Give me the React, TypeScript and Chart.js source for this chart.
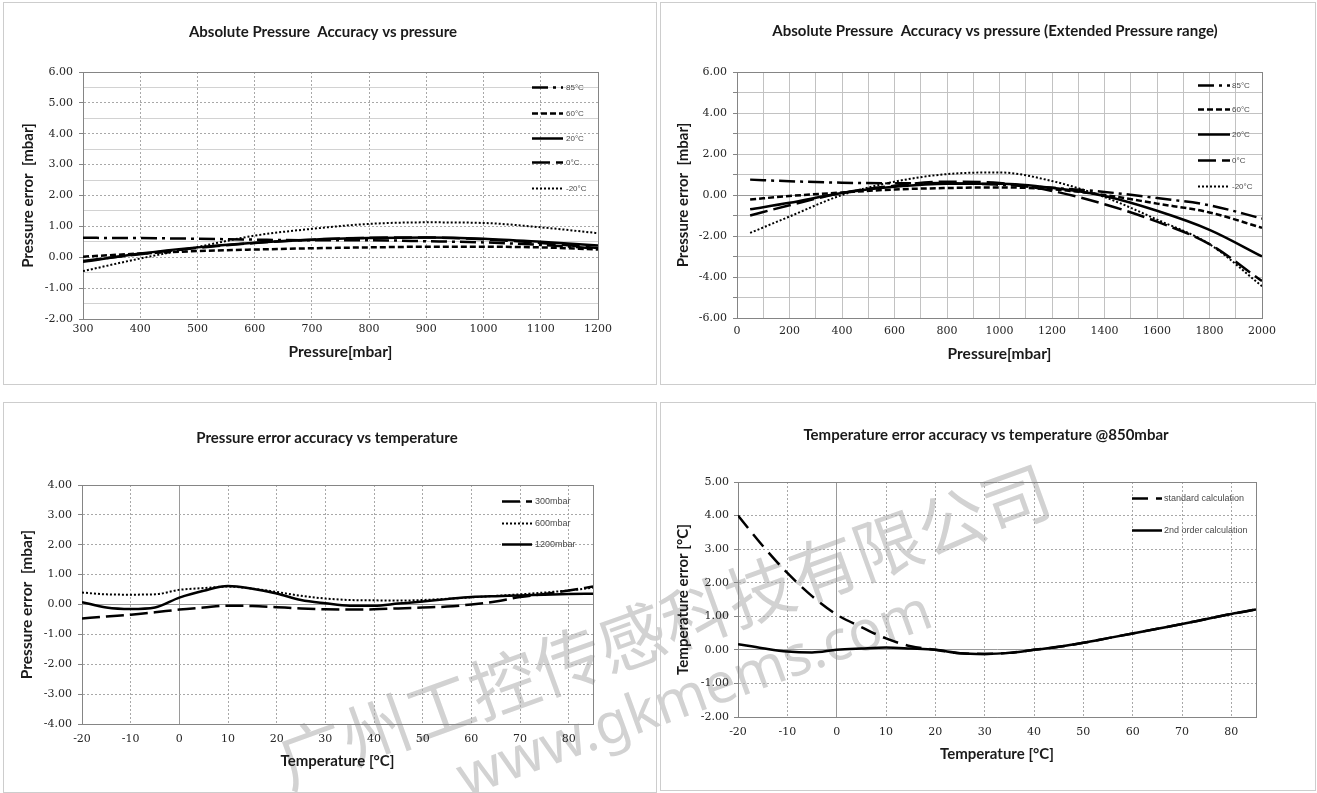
import React, { useEffect, useRef } from 'react';
import { Chart, registerables } from 'chart.js';

Chart.register(...registerables);

// ---------- Panel 1: Absolute Pressure Accuracy vs pressure ----------
const p1Pressure = [300, 400, 500, 600, 700, 800, 900, 1000, 1100, 1200];
const p1T85 = [0.63, 0.62, 0.6, 0.57, 0.55, 0.55, 0.52, 0.48, 0.4, 0.28];
const p1T60 = [0.02, 0.12, 0.2, 0.25, 0.29, 0.32, 0.34, 0.34, 0.32, 0.25];
const p1T20 = [-0.15, 0.12, 0.32, 0.47, 0.57, 0.62, 0.64, 0.6, 0.5, 0.38];
const p1T0 = [-0.12, 0.1, 0.3, 0.46, 0.57, 0.63, 0.64, 0.58, 0.46, 0.3];
const p1Tm20 = [-0.45, -0.04, 0.33, 0.7, 0.92, 1.08, 1.13, 1.11, 0.97, 0.78];
const p1XTicks = [300, 400, 500, 600, 700, 800, 900, 1000, 1100, 1200];
const p1YTicks = [-2, -1.5, -1, -0.5, 0, 0.5, 1, 1.5, 2, 2.5, 3, 3.5, 4, 4.5, 5, 5.5, 6];
const p1YLabels = [-2, -1, 0, 1, 2, 3, 4, 5, 6];

// ---------- Panel 2: Extended pressure range ----------
const p2Pressure = [50, 200, 400, 600, 800, 1000, 1200, 1400, 1600, 1800, 2000];
const p2T85 = [0.75, 0.67, 0.6, 0.57, 0.58, 0.5, 0.35, 0.15, -0.15, -0.5, -1.15];
const p2T60 = [-0.22, -0.05, 0.12, 0.27, 0.34, 0.37, 0.28, 0.0, -0.42, -0.85, -1.6];
const p2T20 = [-0.7, -0.38, 0.1, 0.4, 0.55, 0.55, 0.35, -0.05, -0.77, -1.7, -3.0];
const p2T0 = [-1.0, -0.5, 0.1, 0.45, 0.65, 0.58, 0.2, -0.45, -1.3, -2.4, -4.2];
const p2Tm20 = [-1.85, -1.05, 0.0, 0.65, 1.02, 1.1, 0.68, -0.1, -1.2, -2.4, -4.45];
const p2XTicks = [0, 100, 200, 300, 400, 500, 600, 700, 800, 900, 1000, 1100, 1200, 1300, 1400, 1500, 1600, 1700, 1800, 1900, 2000];
const p2XLabels = [0, 200, 400, 600, 800, 1000, 1200, 1400, 1600, 1800, 2000];
const p2YTicks = [-6, -5, -4, -3, -2, -1, 0, 1, 2, 3, 4, 5, 6];
const p2YLabels = [-6, -4, -2, 0, 2, 4, 6];

const tempSeriesLabels = ['85°C', '60°C', '20°C', '0°C', '-20°C'];

// ---------- Panel 3: Pressure error accuracy vs temperature ----------
const p3Temp = [-20, -15, -10, -5, 0, 5, 10, 15, 20, 25, 30, 35, 40, 45, 50, 55, 60, 65, 70, 75, 80, 85];
const p3P300 = [-0.47, -0.4, -0.34, -0.26, -0.17, -0.1, -0.04, -0.05, -0.09, -0.13, -0.16, -0.17, -0.16, -0.13, -0.1, -0.07, 0.0, 0.1, 0.25, 0.35, 0.47, 0.6];
const p3P600 = [0.4, 0.34, 0.33, 0.34, 0.49, 0.55, 0.6, 0.53, 0.42, 0.29, 0.2, 0.15, 0.14, 0.13, 0.15, 0.19, 0.24, 0.29, 0.34, 0.4, 0.47, 0.56];
const p3P1200 = [0.08, -0.1, -0.15, -0.1, 0.23, 0.46, 0.62, 0.53, 0.37, 0.15, 0.04, -0.04, -0.04, 0.03, 0.1, 0.18, 0.25, 0.28, 0.3, 0.33, 0.35, 0.36];
const p3SeriesLabels = ['300mbar', '600mbar', '1200mbar'];
const tempXTicks = [-20, -10, 0, 10, 20, 30, 40, 50, 60, 70, 80, 85];
const tempXLabels = [-20, -10, 0, 10, 20, 30, 40, 50, 60, 70, 80];
const p3YTicks = [-4, -3, -2, -1, 0, 1, 2, 3, 4];

// ---------- Panel 4: Temperature error accuracy vs temperature @850mbar ----------
const p4Temp = [-20, -15, -10, -5, 0, 5, 10, 15, 20, 25, 30, 35, 40, 45, 50, 55, 60, 65, 70, 75, 80, 85];
const p4Standard = [4.0, 3.1, 2.29, 1.6, 1.05, 0.68, 0.34, 0.11, 0.0, -0.1, -0.12, -0.09, 0.0, 0.09, 0.21, 0.35, 0.49, 0.63, 0.77, 0.92, 1.07, 1.2];
const p4SecondOrder = [0.17, 0.05, -0.05, -0.08, 0.0, 0.04, 0.07, 0.04, 0.0, -0.1, -0.12, -0.09, 0.0, 0.09, 0.21, 0.35, 0.49, 0.63, 0.77, 0.92, 1.07, 1.2];
const p4SeriesLabels = ['standard calculation', '2nd order calculation'];
const p4YTicks = [-2, -1, 0, 1, 2, 3, 4, 5];

const TITLES = [
  'Absolute Pressure  Accuracy vs pressure',
  'Absolute Pressure  Accuracy vs pressure (Extended Pressure range)',
  'Pressure error accuracy vs temperature',
  'Temperature error accuracy vs temperature @850mbar',
];

// ---------- styles ----------
const DASH = {
  dashDot: [16, 5, 3, 5],
  shortDash: [6, 3],
  solid: [] as number[],
  longDash: [18, 6],
  dotted: [2, 2],
  medDash: [16, 8],
};
const FRAME = '#858585';
const DOTGRID = '#a8a8a8';
const MINORGRID = '#d2d2d2';
const SOLIDGRID = '#c2c2c2';
const ZEROGRID = '#9a9a9a';

const TICK_FONT = { family: '"DejaVu Serif", serif', size: 11 };

function series(label: string, xs: number[], ys: number[], dash: number[], width: number) {
  return {
    label,
    data: xs.map((x, i) => ({ x, y: ys[i] })),
    borderColor: '#000',
    backgroundColor: '#000',
    borderWidth: width,
    borderDash: dash,
    pointRadius: 0,
    fill: false,
    cubicInterpolationMode: 'monotone' as const,
  };
}

type GridKind = 'frame' | 'major' | 'minor' | 'zero' | 'solid';
const kindColor: Record<GridKind, string> = { frame: FRAME, major: DOTGRID, minor: MINORGRID, zero: ZEROGRID, solid: SOLIDGRID };
const kindDash: Record<GridKind, number[]> = { frame: [], major: [2, 2], minor: [], zero: [], solid: [] };

const titlePlugin = {
  id: 'panelTitle',
  afterDraw(chart: any, _args: any, opts: any) {
    const ctx = chart.ctx;
    ctx.save();
    ctx.font = opts.font;
    ctx.fillStyle = '#1a1a1a';
    ctx.textAlign = 'center';
    ctx.textBaseline = 'middle';
    ctx.fillText(opts.text, opts.x, opts.y);
    ctx.restore();
  },
};

const innerLegendPlugin = {
  id: 'innerLegend',
  afterDatasetsDraw(chart: any, _args: any, opts: any) {
    const { ctx, chartArea } = chart;
    chart.data.datasets.forEach((ds: any, i: number) => {
      const y = Math.round(chartArea.top + opts.rows[i]) + 0.5;
      ctx.save();
      ctx.strokeStyle = ds.borderColor;
      ctx.lineWidth = ds.borderWidth;
      ctx.setLineDash(ds.borderDash || []);
      ctx.beginPath();
      ctx.moveTo(chartArea.right + opts.x0, y);
      ctx.lineTo(chartArea.right + opts.x1, y);
      ctx.stroke();
      ctx.setLineDash([]);
      ctx.font = opts.font;
      ctx.fillStyle = '#4a4a4a';
      ctx.textAlign = 'left';
      ctx.textBaseline = 'middle';
      ctx.fillText(ds.label, chartArea.right + opts.tx, y);
      ctx.restore();
    });
  },
};

type Spec = {
  left: number; top: number; w: number; h: number;
  padTop: number; padRight: number; yWidth: number; xHeight: number;
  xMin: number; xMax: number; xTicks: number[]; xLabels: number[]; xKind: (v: number) => GridKind;
  yMin: number; yMax: number; yTicks: number[]; yLabels: number[]; yKind: (v: number) => GridKind;
  yTickPad: number; xTickPad: number; xTitlePad: number; yTitlePad: number;
  xTitle: string; yTitle: string; xTitleSize: number; yTitleSize: number;
  title: string; titleX: number; titleY: number;
  datasets: any[];
  legend: { rows: number[]; x0: number; x1: number; tx: number; font: string };
};

function buildConfig(s: Spec): any {
  const gridFor = (kindFn: (v: number) => GridKind, ticksMark: boolean) => ({
    grid: {
      display: true,
      drawOnChartArea: true,
      drawTicks: ticksMark,
      tickLength: 4,
      lineWidth: 1,
      color: (c: any) => (c.tick ? kindColor[kindFn(c.tick.value)] : FRAME),
      tickColor: (c: any) => (c.tick && kindFn(c.tick.value) === 'minor' ? 'rgba(0,0,0,0)' : FRAME),
    },
    border: {
      display: true,
      color: FRAME,
      width: 1,
      dash: (c: any) => (c.tick ? kindDash[kindFn(c.tick.value)] : []),
    },
  });
  return {
    type: 'line',
    data: { datasets: s.datasets },
    plugins: [titlePlugin, innerLegendPlugin],
    options: {
      responsive: false,
      maintainAspectRatio: false,
      animation: false,
      devicePixelRatio: 1,
      layout: { padding: { top: s.padTop, right: s.padRight, left: 0, bottom: 0 } },
      plugins: {
        legend: { display: false },
        tooltip: { enabled: false },
        title: { display: false },
        panelTitle: { text: s.title, x: s.titleX, y: s.titleY, font: 'bold 15px Lato, sans-serif' },
        innerLegend: s.legend,
      },
      scales: {
        x: {
          type: 'linear',
          position: 'bottom',
          min: s.xMin,
          max: s.xMax,
          afterBuildTicks: (axis: any) => { axis.ticks = s.xTicks.map((v) => ({ value: v })); },
          afterFit: (axis: any) => { axis.height = s.xHeight; },
          ticks: {
            autoSkip: false,
            maxRotation: 0,
            minRotation: 0,
            padding: s.xTickPad,
            color: '#262626',
            font: TICK_FONT,
            callback: (v: number) => (s.xLabels.includes(v) ? String(v) : ''),
          },
          title: {
            display: true,
            text: s.xTitle,
            color: '#1a1a1a',
            font: { family: 'Lato, sans-serif', weight: 'bold', size: s.xTitleSize },
            padding: { top: 0, bottom: s.xTitlePad },
          },
          ...gridFor(s.xKind, false),
        },
        y: {
          type: 'linear',
          position: 'left',
          min: s.yMin,
          max: s.yMax,
          afterBuildTicks: (axis: any) => { axis.ticks = s.yTicks.map((v) => ({ value: v })); },
          afterFit: (axis: any) => { axis.width = s.yWidth; },
          ticks: {
            autoSkip: false,
            padding: s.yTickPad,
            color: '#262626',
            font: TICK_FONT,
            callback: (v: number) => (s.yLabels.includes(v) ? v.toFixed(2) : ''),
          },
          title: {
            display: true,
            text: s.yTitle,
            color: '#1a1a1a',
            font: { family: 'Lato, sans-serif', weight: 'bold', size: s.yTitleSize },
            padding: { top: s.yTitlePad, bottom: 0 },
          },
          ...gridFor(s.yKind, true),
        },
      },
    },
  };
}

const tempDatasets = (xs: number[], a: number[], b: number[], c: number[], d: number[], e: number[]) => [
  series(tempSeriesLabels[0], xs, a, DASH.dashDot, 2.5),
  series(tempSeriesLabels[1], xs, b, DASH.shortDash, 2.5),
  series(tempSeriesLabels[2], xs, c, DASH.solid, 2.5),
  series(tempSeriesLabels[3], xs, d, DASH.longDash, 2.5),
  series(tempSeriesLabels[4], xs, e, DASH.dotted, 2),
];

const specs: Spec[] = [
  {
    left: 3, top: 2, w: 654, h: 383,
    padTop: 69, padRight: 58, yWidth: 79, xHeight: 65,
    xMin: 300, xMax: 1200, xTicks: p1XTicks, xLabels: p1XTicks,
    xKind: (v) => (v === 1200 ? 'frame' : 'major'),
    yMin: -2, yMax: 6, yTicks: p1YTicks, yLabels: p1YLabels,
    yKind: (v) => (v === 6 || v === -2 ? 'frame' : Number.isInteger(v) ? 'major' : 'minor'),
    yTickPad: 6, xTickPad: 4, xTitlePad: 22.7, yTitlePad: 15,
    xTitle: 'Pressure[mbar]', yTitle: 'Pressure error  [mbar]', xTitleSize: 15.5, yTitleSize: 15,
    title: TITLES[0], titleX: 319, titleY: 29,
    datasets: tempDatasets(p1Pressure, p1T85, p1T60, p1T20, p1T0, p1Tm20),
    legend: { rows: [15, 41, 66, 90, 116], x0: -66, x1: -35, tx: -32, font: '8px "Liberation Sans", sans-serif' },
  },
  {
    left: 660, top: 2, w: 656, h: 383,
    padTop: 69, padRight: 53, yWidth: 76, xHeight: 66,
    xMin: 0, xMax: 2000, xTicks: p2XTicks, xLabels: p2XLabels,
    xKind: (v) => (v === 2000 ? 'frame' : 'solid'),
    yMin: -6, yMax: 6, yTicks: p2YTicks, yLabels: p2YLabels,
    yKind: (v) => (v === 6 || v === -6 ? 'frame' : v === 0 ? 'zero' : 'solid'),
    yTickPad: 6, xTickPad: 7, xTitlePad: 21.2, yTitlePad: 13,
    xTitle: 'Pressure[mbar]', yTitle: 'Pressure error  [mbar]', xTitleSize: 15.5, yTitleSize: 15,
    title: TITLES[1], titleX: 334, titleY: 28,
    datasets: tempDatasets(p2Pressure, p2T85, p2T60, p2T20, p2T0, p2Tm20),
    legend: { rows: [13, 37, 62, 88, 114], x0: -64, x1: -32, tx: -30, font: '8px "Liberation Sans", sans-serif' },
  },
  {
    left: 3, top: 402, w: 654, h: 391,
    padTop: 82, padRight: 63, yWidth: 78, xHeight: 68,
    xMin: -20, xMax: 85, xTicks: tempXTicks, xLabels: tempXLabels,
    xKind: (v) => (v === 85 ? 'frame' : v === 0 ? 'zero' : 'major'),
    yMin: -4, yMax: 4, yTicks: p3YTicks, yLabels: p3YTicks,
    yKind: (v) => (v === 4 || v === -4 ? 'frame' : v === 0 ? 'zero' : 'major'),
    yTickPad: 6, xTickPad: 9, xTitlePad: 22, yTitlePad: 13.7,
    xTitle: 'Temperature [°C]', yTitle: 'Pressure error  [mbar]', xTitleSize: 15, yTitleSize: 15.5,
    title: TITLES[2], titleX: 323, titleY: 35,
    datasets: [
      series(p3SeriesLabels[0], p3Temp, p3P300, DASH.longDash, 2.5),
      series(p3SeriesLabels[1], p3Temp, p3P600, DASH.dotted, 2),
      series(p3SeriesLabels[2], p3Temp, p3P1200, DASH.solid, 2.5),
    ],
    legend: { rows: [16, 38, 59], x0: -91, x1: -61, tx: -58, font: '9px "Liberation Sans", sans-serif' },
  },
  {
    left: 660, top: 402, w: 656, h: 389,
    padTop: 79, padRight: 59, yWidth: 77, xHeight: 73,
    xMin: -20, xMax: 85, xTicks: tempXTicks, xLabels: tempXLabels,
    xKind: (v) => (v === 85 ? 'frame' : v === 0 ? 'zero' : 'major'),
    yMin: -2, yMax: 5, yTicks: p4YTicks, yLabels: p4YTicks,
    yKind: (v) => (v === 5 || v === -2 ? 'frame' : v === 0 ? 'zero' : 'major'),
    yTickPad: 5, xTickPad: 9, xTitlePad: 27, yTitlePad: 13,
    xTitle: 'Temperature [°C]', yTitle: 'Temperature error [°C]', xTitleSize: 15, yTitleSize: 15,
    title: TITLES[3], titleX: 325, titleY: 32,
    datasets: [
      series(p4SeriesLabels[0], p4Temp, p4Standard, DASH.medDash, 2.5),
      series(p4SeriesLabels[1], p4Temp, p4SecondOrder, DASH.solid, 2.5),
    ],
    legend: { rows: [16, 48], x0: -124, x1: -94, tx: -92, font: '9px "Liberation Sans", sans-serif' },
  },
];

function ChartPanel({ spec }: { spec: Spec }) {
  const ref = useRef<HTMLCanvasElement>(null);
  useEffect(() => {
    const chart = new Chart(ref.current as HTMLCanvasElement, buildConfig(spec));
    return () => chart.destroy();
  }, [spec]);
  return (
    <div
      style={{
        position: 'absolute',
        left: spec.left,
        top: spec.top,
        width: spec.w,
        height: spec.h,
        border: '1px solid #cdcdcd',
        boxSizing: 'border-box',
      }}
    >
      <canvas ref={ref} width={spec.w - 2} height={spec.h - 2} style={{ display: 'block' }} />
    </div>
  );
}

const WATERMARK_CN = '广州工控传感科技有限公司';
const WATERMARK_URL = 'www.gkmems.com';

export default function App() {
  return (
    <div
      style={{
        position: 'absolute',
        left: 0,
        top: 0,
        width: 1317,
        height: 793,
        overflow: 'hidden',
        background: '#ffffff',
      }}
    >
      <div
        style={{
          position: 'absolute',
          left: 279,
          top: 728,
          fontSize: 68,
          lineHeight: '68px',
          fontFamily: '"Noto Sans CJK SC", sans-serif',
          fontWeight: 400,
          color: '#d2d2d2',
          whiteSpace: 'nowrap',
          transform: 'rotate(-19.9deg)',
          transformOrigin: '0 50%',
        }}
      >
        {WATERMARK_CN}
      </div>
      <div
        style={{
          position: 'absolute',
          left: 458,
          top: 748,
          fontSize: 56,
          lineHeight: '56px',
          fontFamily: '"Noto Sans", sans-serif',
          fontWeight: 400,
          letterSpacing: 0,
          color: '#d2d2d2',
          whiteSpace: 'nowrap',
          transform: 'rotate(-20deg)',
          transformOrigin: '0 50%',
        }}
      >
        {WATERMARK_URL}
      </div>
      {specs.map((s, i) => (
        <ChartPanel key={i} spec={s} />
      ))}
    </div>
  );
}
